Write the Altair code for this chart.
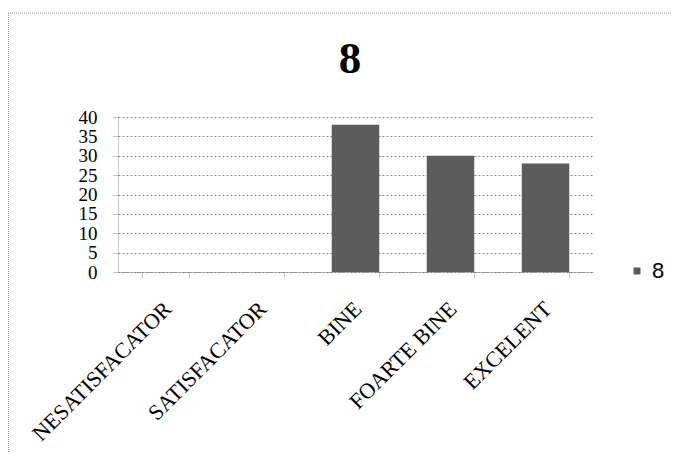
import altair as alt
import pandas as pd

categories = ["NESATISFACATOR", "SATISFACATOR", "BINE", "FOARTE BINE", "EXCELENT"]
values = [0, 0, 38, 30, 28]
series_name = "8"
chart_title = "8"
y_ticks = [0, 5, 10, 15, 20, 25, 30, 35, 40]

df = pd.DataFrame({"cat": categories, "val": values, "series": [series_name] * len(categories)})

BAR = "#5c5c5c"
GRID = "#8a8a8a"

bars = alt.Chart(df).mark_bar(color=BAR).encode(
    x=alt.X("cat:N", sort=categories, title=None,
            scale=alt.Scale(paddingInner=0.5, paddingOuter=0.25),
            axis=alt.Axis(labelAngle=-45, labelAlign="right", labelBaseline="middle",
                          labelFont="Liberation Serif", labelFontSize=22, labelColor="#000",
                          labelPadding=28, labelOffset=2, labelLimit=400, tickSize=5,
                          tickColor=GRID, tickDash=[1, 1], tickBand="extent",
                          domainColor=GRID, domainDash=[2, 1], labelOverlap=False)),
    y=alt.Y("val:Q", title=None,
            scale=alt.Scale(domain=[0, 40], nice=False),
            axis=alt.Axis(values=y_ticks, labelFont="Liberation Serif", labelFontSize=19,
                          labelColor="#000", tickSize=5, tickColor=GRID, tickDash=[1, 1],
                          labelPadding=16, domainColor=GRID, domainDash=[1, 1],
                          labelOverlap=False, labelBound=False,
                          grid=True, gridColor=GRID, gridDash=[2, 2], gridWidth=1)),
    color=alt.Color("series:N", scale=alt.Scale(range=[BAR]),
                    legend=alt.Legend(title=None, orient="none", legendX=508, legendY=143,
                                      symbolType="square", symbolSize=49, symbolStrokeWidth=0,
                                      labelFont="Liberation Sans", labelFontSize=22,
                                      labelColor="#000", labelOffset=4, padding=0)),
)

one = pd.DataFrame({"t": [chart_title]})
title_mark = alt.Chart(one).mark_text(
    font="Liberation Serif", fontSize=45, fontWeight="bold", color="#000",
    align="center", baseline="alphabetic"
).encode(x=alt.value(232), y=alt.value(-44), text="t:N")

top_border = alt.Chart(one).mark_rule(color="#999", strokeDash=[1, 1], strokeWidth=1).encode(
    x=alt.value(-110), x2=alt.value(560), y=alt.value(-104)
)
left_border = alt.Chart(one).mark_rule(color="#999", strokeDash=[1, 1], strokeWidth=1).encode(
    x=alt.value(-109.5), y=alt.value(-104), y2=alt.value(345)
)

chart = alt.layer(bars, title_mark, top_border, left_border).properties(
    width=475, height=155,
    padding={"left": 110, "top": 109, "right": 78, "bottom": 180},
    autosize=alt.AutoSizeParams(type="none"),
).configure_view(stroke=None)

chart.save("out.html", embed_options={"renderer": "svg", "actions": False})
